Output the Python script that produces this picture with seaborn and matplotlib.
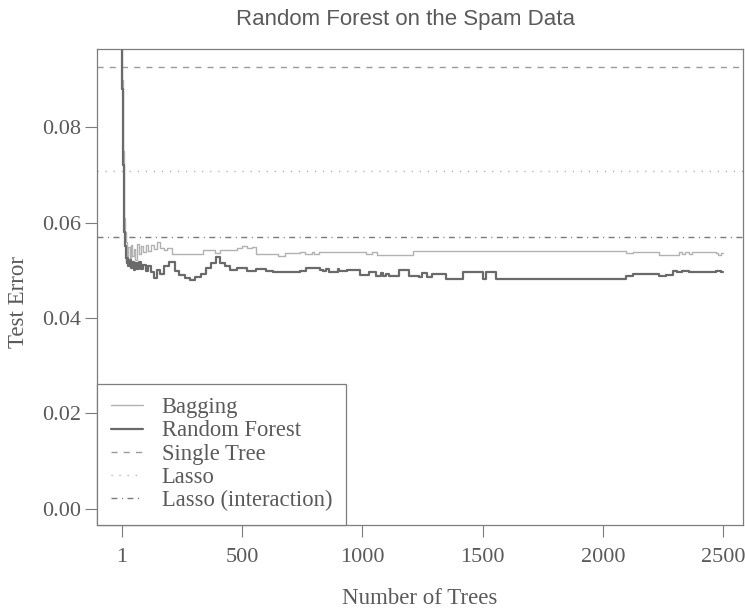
import matplotlib
matplotlib.use("Agg")
import matplotlib.pyplot as plt
from matplotlib.lines import Line2D
import pandas as pd
import seaborn as sns

# Test error of the ensembles as trees are added (value holds until the next change)
bag_trees = [1, 3, 5, 8, 11, 14, 17, 20, 24, 28, 33, 38, 44, 50, 57, 64, 72, 80,
             90, 100, 110, 122, 134, 146, 160, 175, 190, 210, 337, 387, 408, 478,
             500, 520, 540, 560, 650, 680, 740, 760, 790, 800, 820, 1016, 1040,
             1060, 1127, 1210, 2096, 2124, 2235, 2318, 2330, 2340, 2360, 2370,
             2470, 2480, 2490, 2500]
bag_error = [0.140, 0.090, 0.075, 0.066, 0.061, 0.058, 0.056, 0.0545, 0.0530,
             0.0548, 0.0525, 0.0552, 0.0530, 0.0545, 0.0522, 0.0555, 0.0535,
             0.0550, 0.0538, 0.0552, 0.0540, 0.0553, 0.0545, 0.0560, 0.0547,
             0.0543, 0.0547, 0.0534, 0.0543, 0.0536, 0.0543, 0.0547, 0.0550,
             0.0546, 0.0549, 0.0534, 0.0530, 0.0536, 0.0539, 0.0535, 0.0539,
             0.0535, 0.0539, 0.0535, 0.0538, 0.0533, 0.0533, 0.0540, 0.0536,
             0.0539, 0.0533, 0.0539, 0.0535, 0.0539, 0.0535, 0.0539, 0.0536,
             0.0533, 0.0536, 0.0536]

rf_trees = [1, 3, 5, 8, 11, 14, 17, 20, 24, 28, 33, 38, 44, 50, 57, 64, 72, 80,
            90, 100, 110, 122, 134, 146, 160, 175, 195, 221, 240, 263, 285, 304,
            330, 350, 370, 390, 408, 430, 450, 480, 519, 560, 600, 630, 741, 768,
            823, 836, 850, 860, 900, 905, 935, 990, 1030, 1058, 1080, 1085, 1100,
            1110, 1154, 1196, 1237, 1250, 1270, 1290, 1348, 1417, 1500, 1514,
            1556, 2096, 2124, 2235, 2262, 2290, 2310, 2330, 2359, 2470, 2490,
            2500]
rf_error = [0.140, 0.088, 0.072, 0.063, 0.058, 0.055, 0.0525, 0.0515, 0.0525,
            0.0510, 0.0522, 0.0505, 0.0518, 0.0500, 0.0515, 0.0503, 0.0518,
            0.0502, 0.0512, 0.0498, 0.0510, 0.0496, 0.0484, 0.0500, 0.0492,
            0.0508, 0.0517, 0.0498, 0.0490, 0.0483, 0.0480, 0.0486, 0.0492,
            0.0505, 0.0515, 0.0527, 0.0515, 0.0508, 0.0500, 0.0504, 0.0498,
            0.0502, 0.0498, 0.0497, 0.0498, 0.0505, 0.0500, 0.0498, 0.0503,
            0.0497, 0.0503, 0.0498, 0.0500, 0.0490, 0.0497, 0.0487, 0.0495,
            0.0487, 0.0493, 0.0487, 0.0500, 0.0487, 0.0485, 0.0494, 0.0486,
            0.0492, 0.0481, 0.0497, 0.0481, 0.0497, 0.0481, 0.0487, 0.0492,
            0.0487, 0.0491, 0.0499, 0.0496, 0.0499, 0.0496, 0.0499, 0.0496,
            0.0496]

# Reference errors of the other methods
single_tree_error = 0.0927
lasso_error = 0.0708
lasso_interaction_error = 0.0570

x_ticks = [1, 500, 1000, 1500, 2000, 2500]
y_ticks = [0.00, 0.02, 0.04, 0.06, 0.08]

bag_df = pd.DataFrame({"Trees": bag_trees, "Error": bag_error})
rf_df = pd.DataFrame({"Trees": rf_trees, "Error": rf_error})

sns.set_theme(style="white")
plt.rcParams["font.family"] = ["Liberation Serif", "DejaVu Serif"]

TEXT = "#5a5a5a"
FRAME = "#7d7d7d"
C_BAG = "#b2b2b2"
C_RF = "#6a6a6a"
C_TREE = "#9a9a9a"
C_LASSO = "#a6a6a6"
C_INTER = "#7a7a7a"

ST_TREE = (0, (4.4, 4.4))
ST_LASSO = (0, (0.8, 5.0))
ST_INTER = (0, (4.3, 3.2, 0.8, 3.2))

fig = plt.figure(figsize=(7.45, 6.12), dpi=100)
ax = fig.add_axes([97 / 745, 1 - 525 / 612, (743 - 97) / 745, (525 - 49) / 612])

ax.axhline(single_tree_error, color=C_TREE, lw=1.0, ls=ST_TREE)
ax.axhline(lasso_error, color=C_LASSO, lw=1.0, ls=ST_LASSO)
ax.axhline(lasso_interaction_error, color=C_INTER, lw=1.0, ls=ST_INTER)

sns.lineplot(data=bag_df, x="Trees", y="Error", ax=ax, estimator=None,
             drawstyle="steps-post", color=C_BAG, lw=1.0)
sns.lineplot(data=rf_df, x="Trees", y="Error", ax=ax, estimator=None,
             drawstyle="steps-post", color=C_RF, lw=1.6)

ax.set_xlim(-102.8, 2583)
ax.set_ylim(-0.00346, 0.09644)

ax.set_xticks(x_ticks)
ax.set_xticklabels([str(t) for t in x_ticks])
ax.set_yticks(y_ticks)
ax.set_yticklabels([f"{v:.2f}" for v in y_ticks])
ax.tick_params(axis="both", which="major", direction="out", length=8.6,
               width=0.8, color=FRAME, labelcolor=TEXT, labelsize=16,
               left=True, bottom=True)
ax.tick_params(axis="x", pad=8)
ax.tick_params(axis="y", pad=3)

for sp in ax.spines.values():
    sp.set_visible(True)
    sp.set_color(FRAME)
    sp.set_linewidth(0.9)

ax.set_xlabel("Number of Trees", fontsize=16.5, color=TEXT, labelpad=15)
ax.set_ylabel("Test Error", fontsize=16.5, color=TEXT)
ax.yaxis.set_label_coords(-0.105, 0.468)

fig.text(406 / 745, 1 - 19 / 612, "Random Forest on the Spam Data",
         ha="center", va="center", fontsize=16, color=TEXT,
         family=["Liberation Sans", "DejaVu Sans"])

handles = [
    Line2D([], [], color=C_BAG, lw=1.0),
    Line2D([], [], color=C_RF, lw=1.6),
    Line2D([], [], color=C_TREE, lw=1.0, ls=ST_TREE),
    Line2D([], [], color=C_LASSO, lw=1.0, ls=ST_LASSO),
    Line2D([], [], color=C_INTER, lw=1.0, ls=ST_INTER),
]
labels = ["Bagging", "Random Forest", "Single Tree", "Lasso", "Lasso (interaction)"]
leg = ax.legend(handles, labels, loc="lower left", borderaxespad=0,
                fontsize=16.3, frameon=True, fancybox=False, handlelength=1.45,
                handletextpad=0.8, borderpad=0.6, labelspacing=0.1,
                labelcolor=TEXT)
leg.get_frame().set_edgecolor(FRAME)
leg.get_frame().set_linewidth(0.9)
leg.get_frame().set_alpha(1)

fig.savefig("out.png", dpi=100)
